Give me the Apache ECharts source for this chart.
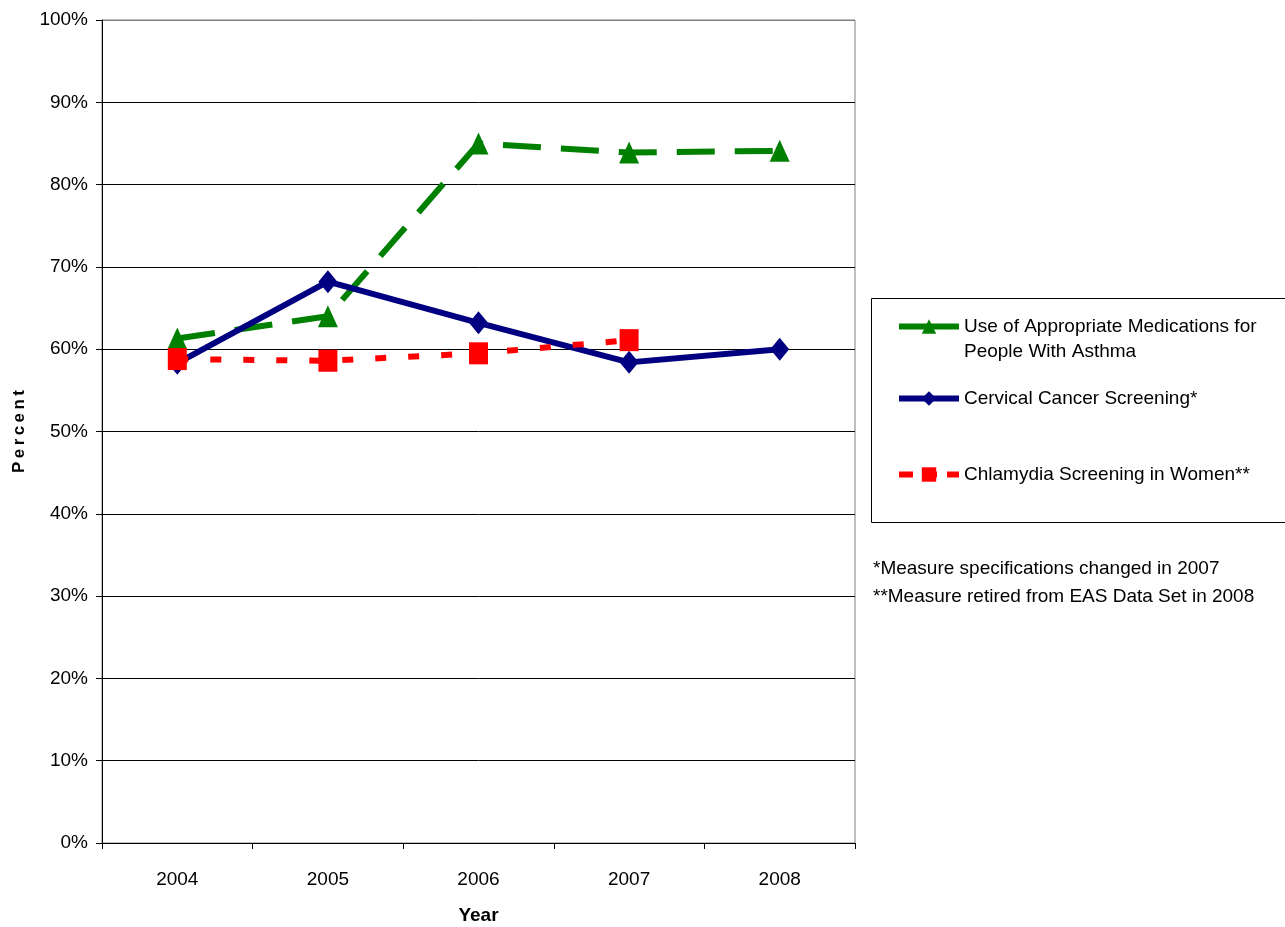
<!DOCTYPE html>
<html>
<head>
<meta charset="utf-8">
<script src="https://cdn.jsdelivr.net/npm/echarts@6/dist/echarts.min.js"></script>
<style>
  html, body { margin: 0; padding: 0; background: #fff; }
  #chart { width: 1285px; height: 927px; }
</style>
</head>
<body>
<div id="chart"></div>
<script>
// Years on the horizontal axis
const years = ['2004', '2005', '2006', '2007', '2008'];

// Percent of members meeting each measure
const asthmaMeds = [61.3, 64.0, 85.0, 83.9, 84.1];
const cervicalScreening = [58.3, 68.2, 63.2, 58.4, 60.0];
const chlamydiaScreening = [58.8, 58.6, 59.5, 61.1, null];

// Series names as shown in the legend (the asthma name wraps onto two lines)
const nameAsthma = 'Use of Appropriate Medications for';
const nameAsthmaLine2 = 'People With Asthma';
const nameCervical = 'Cervical Cancer Screening*';
const nameChlamydia = 'Chlamydia Screening in Women**';

// Footnotes beneath the legend
const footnotes = [
  '*Measure specifications changed in 2007',
  '**Measure retired from EAS Data Set in 2008'
];

const FONT = 'Liberation Sans, Arial, sans-serif';
const chart = echarts.init(document.getElementById('chart'), null, { renderer: 'canvas' });

// 0%..90% gridlines black, the 100% line grey like the plot border
const splitColors = [];
for (let i = 0; i <= 10; i++) splitColors.push(i === 10 ? '#808080' : '#000000');

const legendText = { fontFamily: FONT, fontSize: 19, color: '#000', lineHeight: 23 };

// Letter-spaced axis title (thin spaces between letters)
const percentTitle = 'Percent'.split('').join('\u2009');

chart.setOption({
  animation: false,
  backgroundColor: '#ffffff',
  grid: {
    left: 102, right: 430, top: 20, bottom: 84,
    outerBoundsMode: 'none',
    containLabel: false,
    show: true, borderColor: '#808080', borderWidth: 1, backgroundColor: 'transparent'
  },
  xAxis: {
    type: 'category',
    data: years,
    boundaryGap: true,
    name: 'Year',
    nameLocation: 'middle',
    nameGap: 63,
    nameTextStyle: { fontFamily: FONT, fontSize: 19, fontWeight: 'bold', color: '#000' },
    axisLine: { lineStyle: { color: '#000', width: 1 } },
    axisTick: { show: true, inside: false, length: 6, alignWithLabel: false, lineStyle: { color: '#000' } },
    axisLabel: { margin: 27, fontFamily: FONT, fontSize: 19, color: '#000' },
    splitLine: { show: false }
  },
  yAxis: {
    type: 'value',
    min: 0, max: 100, interval: 10,
    name: percentTitle,
    nameLocation: 'middle',
    nameGap: 74,
    nameRotate: 90,
    nameTextStyle: { fontFamily: FONT, fontSize: 17, fontWeight: 'bold', color: '#000' },
    axisLine: { show: true, lineStyle: { color: '#000', width: 1 } },
    axisTick: { show: true, inside: false, length: 6, lineStyle: { color: '#000' } },
    axisLabel: { margin: 14, fontFamily: FONT, fontSize: 19, color: '#000', formatter: '{value}%' },
    splitLine: { show: true, lineStyle: { color: splitColors, width: 1 } }
  },
  legend: [
    {
      data: [nameAsthma], orient: 'vertical', left: 896, top: 315, padding: 0,
      itemWidth: 60, itemHeight: 18,
      lineStyle: { width: 6, type: 'solid' },
      textStyle: legendText
    },
    {
      data: [nameCervical], orient: 'vertical', left: 896, top: 387, padding: 0,
      itemWidth: 60, itemHeight: 18,
      lineStyle: { width: 6, type: 'solid' },
      textStyle: legendText
    },
    {
      data: [nameChlamydia], orient: 'vertical', left: 896, top: 463, padding: 0,
      itemWidth: 60, itemHeight: 18,
      lineStyle: { width: 6, type: [14, 10] },
      textStyle: legendText
    }
  ],
  graphic: [
    {
      type: 'rect', z: -1, silent: true,
      shape: { x: 871.5, y: 298.5, width: 430, height: 224 },
      style: { fill: '#fff', stroke: '#000', lineWidth: 1 }
    },
    {
      type: 'text', left: 964, top: 342,
      style: { text: nameAsthmaLine2, font: '19px ' + FONT, fill: '#000' }
    },
    {
      type: 'text', left: 873, top: 559,
      style: { text: footnotes[0], font: '19px ' + FONT, fill: '#000' }
    },
    {
      type: 'text', left: 873, top: 587,
      style: { text: footnotes[1], font: '19px ' + FONT, fill: '#000' }
    }
  ],
  series: [
    {
      name: nameAsthma, type: 'line', data: asthmaMeds,
      symbol: 'triangle', symbolSize: [20, 22],
      lineStyle: { color: '#008000', width: 6, type: [38, 20], cap: 'butt' },
      itemStyle: { color: '#008000', borderWidth: 0 },
      z: 2
    },
    {
      name: nameCervical, type: 'line', data: cervicalScreening,
      symbol: 'diamond', symbolSize: [19, 23],
      lineStyle: { color: '#000080', width: 6, type: 'solid' },
      itemStyle: { color: '#000080', borderWidth: 0 },
      z: 3
    },
    {
      name: nameChlamydia, type: 'line', data: chlamydiaScreening,
      symbol: 'rect', symbolSize: [19, 22],
      lineStyle: { color: '#ff0000', width: 6, type: [11, 22], cap: 'butt' },
      itemStyle: { color: '#ff0000', borderWidth: 0 },
      z: 4
    }
  ]
});
</script>
</body>
</html>
